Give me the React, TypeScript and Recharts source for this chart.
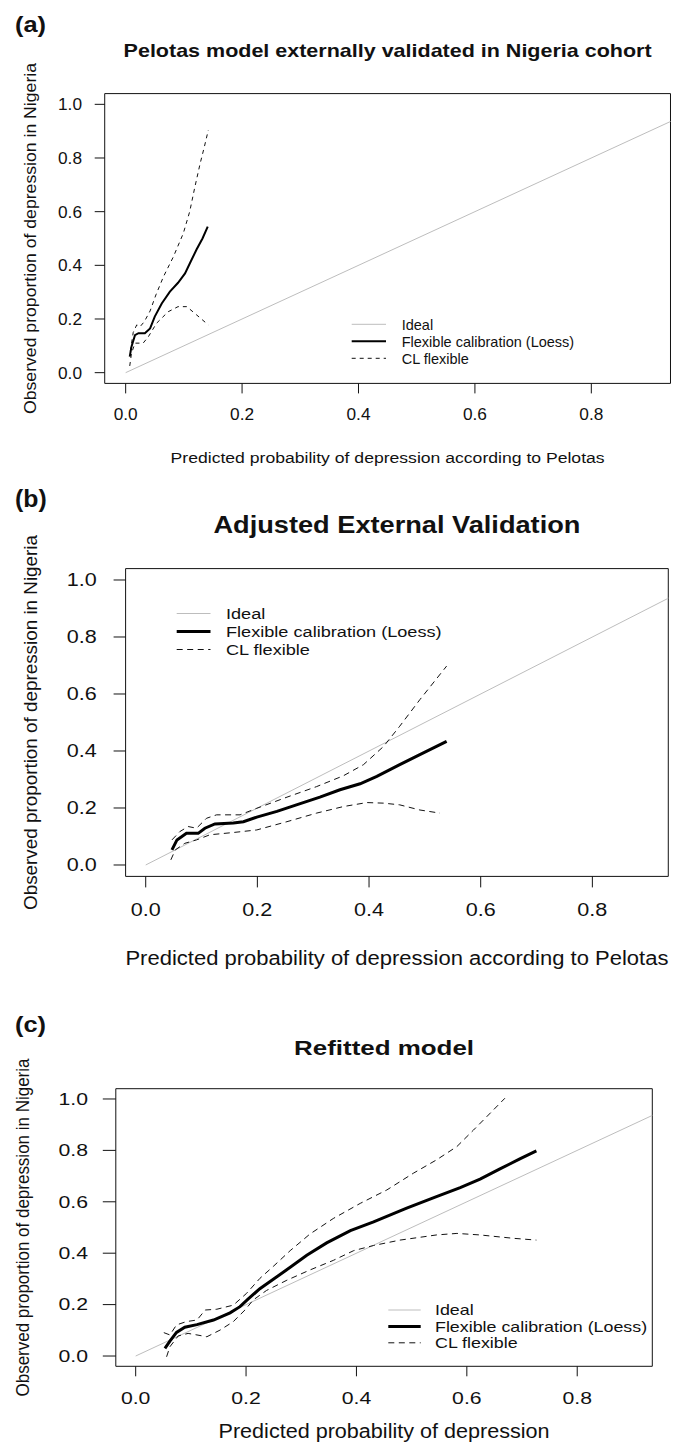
import { LineChart, Line, XAxis, YAxis, ReferenceArea } from 'recharts';

// axes shared by the three calibration plots
const xTicks = [0, 0.2, 0.4, 0.6, 0.8];
const yTicks = [0, 0.2, 0.4, 0.6, 0.8, 1.0];
const xDomain = [-0.036, 0.936];
const yDomain = [-0.04, 1.04];

const idealX = [0, 1];
const idealY = [0, 1];

// (a) Pelotas model externally validated in Nigeria cohort
const aLoessX = [0.007, 0.010, 0.016, 0.022, 0.033, 0.042, 0.050, 0.062, 0.076, 0.090, 0.102, 0.112, 0.122, 0.132, 0.141];
const aLoessY = [0.060, 0.097, 0.140, 0.147, 0.147, 0.165, 0.209, 0.258, 0.302, 0.335, 0.370, 0.415, 0.460, 0.500, 0.544];
const aUpperX = [0.008, 0.013, 0.019, 0.025, 0.032, 0.042, 0.052, 0.065, 0.082, 0.099, 0.110, 0.119, 0.128, 0.135, 0.142];
const aUpperY = [0.080, 0.150, 0.178, 0.172, 0.190, 0.230, 0.290, 0.358, 0.432, 0.519, 0.600, 0.693, 0.780, 0.840, 0.904];
const aLowerX = [0.007, 0.010, 0.016, 0.030, 0.039, 0.053, 0.073, 0.090, 0.105, 0.122, 0.142];
const aLowerY = [0.025, 0.072, 0.110, 0.110, 0.134, 0.184, 0.227, 0.246, 0.246, 0.215, 0.178];

// (b) Adjusted External Validation
const bLoessX = [0.047, 0.056, 0.073, 0.094, 0.106, 0.124, 0.157, 0.175, 0.199, 0.235, 0.270, 0.312, 0.348, 0.384, 0.414, 0.455, 0.491, 0.539];
const bLoessY = [0.053, 0.088, 0.111, 0.111, 0.129, 0.144, 0.147, 0.152, 0.168, 0.188, 0.211, 0.238, 0.264, 0.285, 0.311, 0.352, 0.387, 0.434];
const bUpperX = [0.047, 0.061, 0.076, 0.091, 0.109, 0.127, 0.169, 0.199, 0.253, 0.306, 0.354, 0.390, 0.426, 0.455, 0.491, 0.539];
const bUpperY = [0.088, 0.117, 0.135, 0.129, 0.164, 0.176, 0.176, 0.199, 0.238, 0.275, 0.313, 0.352, 0.416, 0.487, 0.580, 0.698];
const bLowerX = [0.045, 0.053, 0.070, 0.091, 0.115, 0.157, 0.199, 0.253, 0.306, 0.354, 0.396, 0.426, 0.455, 0.491, 0.527];
const bLowerY = [0.018, 0.053, 0.076, 0.088, 0.106, 0.114, 0.123, 0.152, 0.182, 0.205, 0.219, 0.217, 0.211, 0.193, 0.182];

// (c) Refitted model
const cLoessX = [0.053, 0.062, 0.074, 0.089, 0.111, 0.141, 0.171, 0.189, 0.204, 0.225, 0.250, 0.280, 0.310, 0.346, 0.389, 0.431, 0.491, 0.545, 0.588, 0.624, 0.660, 0.696, 0.726];
const cLoessY = [0.030, 0.058, 0.092, 0.112, 0.122, 0.140, 0.168, 0.192, 0.222, 0.262, 0.300, 0.345, 0.392, 0.440, 0.488, 0.522, 0.575, 0.620, 0.655, 0.688, 0.728, 0.767, 0.798];
const cUpperX = [0.051, 0.062, 0.074, 0.092, 0.111, 0.126, 0.147, 0.177, 0.201, 0.225, 0.250, 0.280, 0.316, 0.358, 0.407, 0.455, 0.503, 0.545, 0.582, 0.612, 0.636, 0.669];
const cUpperY = [0.091, 0.082, 0.121, 0.134, 0.140, 0.179, 0.182, 0.198, 0.244, 0.302, 0.350, 0.410, 0.475, 0.535, 0.594, 0.646, 0.711, 0.763, 0.815, 0.879, 0.931, 1.003];
const cLowerX = [0.056, 0.062, 0.077, 0.095, 0.111, 0.129, 0.153, 0.177, 0.198, 0.213, 0.237, 0.274, 0.316, 0.358, 0.395, 0.431, 0.479, 0.545, 0.582, 0.624, 0.684, 0.726];
const cLowerY = [-0.003, 0.036, 0.078, 0.088, 0.082, 0.075, 0.101, 0.134, 0.179, 0.218, 0.255, 0.295, 0.335, 0.372, 0.410, 0.430, 0.451, 0.471, 0.477, 0.471, 0.458, 0.451];

const legendLabels = ['Ideal', 'Flexible calibration (Loess)', 'CL flexible'];

const FONT = '"Liberation Sans", Arial, Helvetica, sans-serif';
const IDEAL = '#bdbdbd';
const INK = '#111';

const zip = (xs: number[], ys: number[]) => xs.map((x, i) => ({ x, y: ys[i] }));

const panels = [
  {
    key: 'a',
    letter: { text: '(a)', y: 32, fs: 22, w: 31 },
    title: { text: 'Pelotas model externally validated in Nigeria cohort', y: 57, fs: 18.5, w: 528 },
    yLabel: { text: 'Observed proportion of depression in Nigeria', x: 36, fs: 16.5, w: 351 },
    xLabel: { text: 'Predicted probability of depression according to Pelotas', y: 463.3, fs: 15.5, w: 434 },
    box: { left: 104.7, top: 93.6, width: 565.8, height: 289.8 },
    chartTop: 70,
    yTick: { size: 10, margin: 12.7, fs: 16.5, w: 24 },
    xTick: { size: 10, margin: 14.6, fs: 16.5, w: 24 },
    legend: { x1: 351.7, x2: 386, tx: 401.7, y0: 324.3, dy: 17, fs: 14.5, sx: 1.0 },
    loessWidth: 2,
    dash: '4 4',
    loess: zip(aLoessX, aLoessY),
    upper: zip(aUpperX, aUpperY),
    lower: zip(aLowerX, aLowerY),
  },
  {
    key: 'b',
    letter: { text: '(b)', y: 506.7, fs: 23, w: 31.7 },
    title: { text: 'Adjusted External Validation', y: 532.8, fs: 24, w: 367 },
    yLabel: { text: 'Observed proportion of depression in Nigeria', x: 37.4, fs: 18, w: 375 },
    xLabel: { text: 'Predicted probability of depression according to Pelotas', y: 964.5, fs: 19.5, w: 543 },
    box: { left: 125.6, top: 568.6, width: 542.7, height: 307.8 },
    chartTop: 545,
    yTick: { size: 12, margin: 16.9, fs: 18, w: 30 },
    xTick: { size: 11, margin: 15.9, fs: 18.5, w: 30 },
    legend: { x1: 176.7, x2: 210.5, tx: 226, y0: 613.5, dy: 18, fs: 15.5, sx: 1.17 },
    loessWidth: 3,
    dash: '6 4.5',
    loess: zip(bLoessX, bLoessY),
    upper: zip(bUpperX, bUpperY),
    lower: zip(bLowerX, bLowerY),
  },
  {
    key: 'c',
    letter: { text: '(c)', y: 1031.7, fs: 22, w: 31 },
    title: { text: 'Refitted model', y: 1054.5, fs: 20, w: 180 },
    yLabel: { text: 'Observed proportion of depression in Nigeria', x: 29.1, fs: 17.5, w: 338 },
    xLabel: { text: 'Predicted probability of depression', y: 1437.8, fs: 19.5, w: 331 },
    box: { left: 115.8, top: 1088.7, width: 536.5, height: 277.6 },
    chartTop: 1065,
    yTick: { size: 13, margin: 14.8, fs: 16.5, w: 29.5 },
    xTick: { size: 10, margin: 15.5, fs: 16.5, w: 29.5 },
    legend: { x1: 388.3, x2: 420.7, tx: 435, y0: 1310, dy: 16.4, fs: 14.5, sx: 1.23 },
    loessWidth: 3,
    dash: '6 4.5',
    loess: zip(cLoessX, cLoessY),
    upper: zip(cUpperX, cUpperY),
    lower: zip(cLowerX, cLowerY),
  },
];

const ideal = zip(idealX, idealY);

type P = (typeof panels)[number];

function XTick(props: any) {
  const { x, y, payload, cfg } = props;
  return (
    <text x={x} y={y} dy="0.71em" textAnchor="middle" fontFamily={FONT} fontSize={cfg.fs} fill={INK}
      textLength={cfg.w} lengthAdjust="spacingAndGlyphs">
      {Number(payload.value).toFixed(1)}
    </text>
  );
}

function YTick(props: any) {
  const { x, y, payload, cfg } = props;
  return (
    <text x={x} y={y} dy="0.355em" textAnchor="end" fontFamily={FONT} fontSize={cfg.fs} fill={INK}
      textLength={cfg.w} lengthAdjust="spacingAndGlyphs">
      {Number(payload.value).toFixed(1)}
    </text>
  );
}

function Panel({ p }: { p: P }) {
  const xAxisH = 44;
  const height = p.box.top + p.box.height + xAxisH - p.chartTop;
  return (
    <div style={{ position: 'absolute', left: 0, top: p.chartTop }}>
      <LineChart
        width={683}
        height={height}
        margin={{ top: p.box.top - p.chartTop, right: 683 - p.box.left - p.box.width, bottom: 0, left: 0 }}
      >
        <XAxis
          type="number"
          dataKey="x"
          domain={xDomain}
          ticks={xTicks}
          interval={0}
          allowDataOverflow
          axisLine={false}
          stroke={INK}
          tickSize={p.xTick.size}
          tickMargin={p.xTick.margin}
          height={xAxisH}
          tick={(t: any) => <XTick {...t} cfg={p.xTick} />}
        />
        <YAxis
          type="number"
          domain={yDomain}
          ticks={yTicks}
          interval={0}
          allowDataOverflow
          axisLine={false}
          stroke={INK}
          width={p.box.left}
          tickSize={p.yTick.size}
          tickMargin={p.yTick.margin}
          tick={(t: any) => <YTick {...t} cfg={p.yTick} />}
        />
        <ReferenceArea
          x1={xDomain[0]}
          x2={xDomain[1]}
          y1={yDomain[0]}
          y2={yDomain[1]}
          fill="none"
          stroke={INK}
          strokeWidth={1}
          ifOverflow="visible"
        />
        <Line data={ideal} dataKey="y" type="linear" stroke={IDEAL} strokeWidth={1}
          dot={false} activeDot={false} isAnimationActive={false} />
        <Line data={p.upper} dataKey="y" type="linear" stroke={INK} strokeWidth={1} strokeDasharray={p.dash}
          dot={false} activeDot={false} isAnimationActive={false} />
        <Line data={p.lower} dataKey="y" type="linear" stroke={INK} strokeWidth={1} strokeDasharray={p.dash}
          dot={false} activeDot={false} isAnimationActive={false} />
        <Line data={p.loess} dataKey="y" type="linear" stroke="#000" strokeWidth={p.loessWidth}
          dot={false} activeDot={false} isAnimationActive={false} />
      </LineChart>
    </div>
  );
}

function Texts({ p }: { p: P }) {
  const cx = p.box.left + p.box.width / 2;
  const cy = p.box.top + p.box.height / 2;
  const lg = p.legend;
  const styles = [
    { stroke: IDEAL, width: 1, dash: undefined as string | undefined },
    { stroke: '#000', width: p.loessWidth, dash: undefined },
    { stroke: INK, width: 1, dash: p.dash },
  ];
  return (
    <g fontFamily={FONT} fill={INK}>
      <text x={15} y={p.letter.y} fontSize={p.letter.fs} fontWeight={700}
        textLength={p.letter.w} lengthAdjust="spacingAndGlyphs">{p.letter.text}</text>
      <text x={cx} y={p.title.y} textAnchor="middle" fontSize={p.title.fs} fontWeight={700}
        textLength={p.title.w} lengthAdjust="spacingAndGlyphs">{p.title.text}</text>
      <text x={cx} y={p.xLabel.y} textAnchor="middle" fontSize={p.xLabel.fs}
        textLength={p.xLabel.w} lengthAdjust="spacingAndGlyphs">{p.xLabel.text}</text>
      <text transform={`translate(${p.yLabel.x},${cy}) rotate(-90)`} textAnchor="middle" fontSize={p.yLabel.fs}
        textLength={p.yLabel.w} lengthAdjust="spacingAndGlyphs">{p.yLabel.text}</text>
      {legendLabels.map((label, i) => {
        const y = lg.y0 + i * lg.dy;
        const s = styles[i];
        return (
          <g key={label}>
            <line x1={lg.x1} x2={lg.x2} y1={y} y2={y} stroke={s.stroke} strokeWidth={s.width} strokeDasharray={s.dash} />
            <text transform={`translate(${lg.tx},${y + 0.36 * lg.fs}) scale(${lg.sx},1)`} fontSize={lg.fs}>{label}</text>
          </g>
        );
      })}
    </g>
  );
}

export default function App() {
  return (
    <div style={{ position: 'absolute', left: 0, top: 0, width: 683, height: 1448, background: '#fff' }}>
      {panels.map((p) => (
        <Panel key={p.key} p={p} />
      ))}
      <svg width={683} height={1448} style={{ position: 'absolute', left: 0, top: 0, pointerEvents: 'none' }}>
        {panels.map((p) => (
          <Texts key={p.key} p={p} />
        ))}
      </svg>
    </div>
  );
}
